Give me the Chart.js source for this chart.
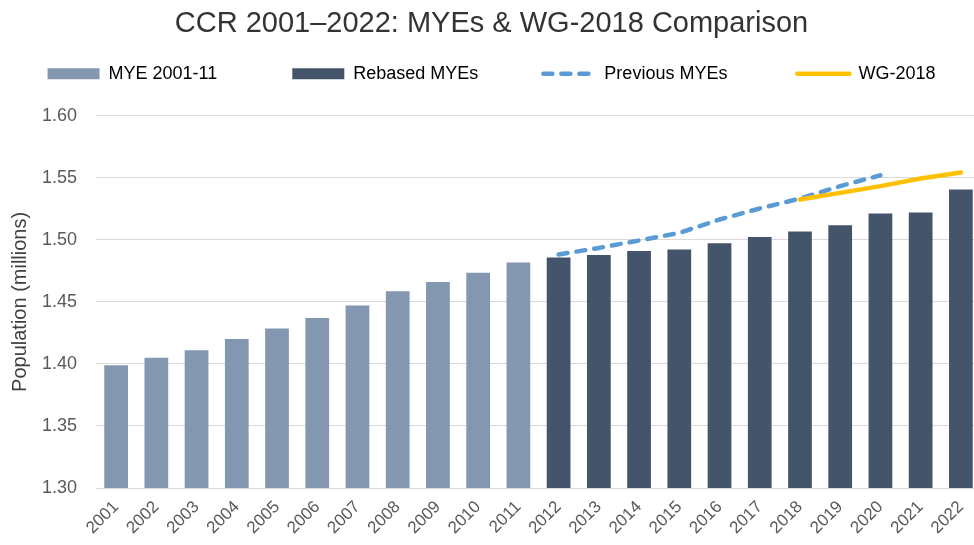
<!DOCTYPE html>
<html>
<head>
<meta charset="utf-8">
<script src="https://cdn.jsdelivr.net/npm/chart.js@4/dist/chart.umd.min.js"></script>
<style>
  html, body { margin: 0; padding: 0; background: #ffffff; overflow: hidden; width: 974px; height: 545px; }
  #wrap { width: 981px; height: 545px; }
</style>
</head>
<body>
<div id="wrap"><canvas id="c" width="981" height="545"></canvas></div>
<script>
// ---- Data ----
const years = ['2001','2002','2003','2004','2005','2006','2007','2008','2009','2010','2011',
               '2012','2013','2014','2015','2016','2017','2018','2019','2020','2021','2022'];

const myeEarly = [1.399, 1.405, 1.411, 1.420, 1.4285, 1.437, 1.447, 1.4585, 1.466, 1.4735, 1.4817,
                  null, null, null, null, null, null, null, null, null, null, null];

const rebasedMYEs = [null, null, null, null, null, null, null, null, null, null, null,
                     1.4858, 1.4879, 1.4911, 1.4922, 1.4973, 1.5024, 1.5067, 1.5118, 1.5212, 1.5220, 1.5406];

const previousMYEs = [null, null, null, null, null, null, null, null, null, null, null,
                      1.4882, 1.4935, 1.4995, 1.5056, 1.5164, 1.5253, 1.5333, 1.5433, 1.5521, null, null];

const wg2018 = [null, null, null, null, null, null, null, null, null, null, null,
                null, null, null, null, null, null, 1.5325, 1.5379, 1.5433, 1.5495, 1.5543];

const yTicks = [1.30, 1.35, 1.40, 1.45, 1.50, 1.55, 1.60];

const seriesNames = ['MYE 2001-11', 'Rebased MYEs', 'Previous MYEs', 'WG-2018'];
const titleText = 'CCR 2001\u20132022: MYEs & WG-2018 Comparison';
const yTitle = 'Population (millions)';

// ---- Styles ----
const C_LIGHT = '#8497B0';
const C_DARK = '#44546A';
const C_BLUE = '#5B9BD5';
const C_GOLD = '#FFC000';
const FONT = '"Liberation Sans", Arial, Helvetica, sans-serif';
const sp = n => ' '.repeat(n);

// Adds spacing under the legend row (legend padding is shared between x and y)
const legendSpacer = {
  id: 'legendSpacer',
  beforeLayout(chart) {
    const lg = chart.legend;
    if (lg && !lg.__wrapped) {
      const orig = lg.fit.bind(lg);
      lg.fit = function () { orig(); this.height += 23; };
      lg.__wrapped = true;
    }
  }
};

new Chart(document.getElementById('c'), {
  data: {
    labels: years,
    datasets: [
      { type: 'bar', label: seriesNames[0], data: myeEarly, backgroundColor: C_LIGHT,
        grouped: false, categoryPercentage: 1, barPercentage: 0.59, order: 3 },
      { type: 'bar', label: seriesNames[1], data: rebasedMYEs, backgroundColor: C_DARK,
        grouped: false, categoryPercentage: 1, barPercentage: 0.59, order: 2 },
      { type: 'line', label: seriesNames[2], data: previousMYEs, borderColor: C_BLUE,
        borderWidth: 4.5, borderDash: [9, 9], borderCapStyle: 'round', pointRadius: 0,
        tension: 0, fill: false, spanGaps: false, order: 1 },
      { type: 'line', label: seriesNames[3], data: wg2018, borderColor: C_GOLD,
        borderWidth: 4.5, borderCapStyle: 'round', pointRadius: 0,
        tension: 0, fill: false, spanGaps: false, order: 0 }
    ]
  },
  options: {
    responsive: false,
    animation: false,
    devicePixelRatio: 1,
    layout: { padding: { left: 2, right: 0, top: 0, bottom: 0 } },
    plugins: {
      tooltip: { enabled: false },
      title: {
        display: true, text: titleText, color: '#333333',
        font: { family: FONT, size: 29, weight: 'normal', lineHeight: 1.2 },
        padding: { top: 7, bottom: 13 }
      },
      legend: {
        display: true, position: 'top', align: 'center',
        labels: {
          usePointStyle: true, pointStyleWidth: 52, boxHeight: 11, padding: 10,
          color: '#404040', font: { family: FONT, size: 18 },
          generateLabels: () => [
            { text: seriesNames[0] + sp(13), fillStyle: C_LIGHT, strokeStyle: C_LIGHT, lineWidth: 0,
              pointStyle: 'rect', hidden: false, datasetIndex: 0 },
            { text: seriesNames[1] + sp(11), fillStyle: C_DARK, strokeStyle: C_DARK, lineWidth: 0,
              pointStyle: 'rect', hidden: false, datasetIndex: 1 },
            { text: seriesNames[2] + sp(12), fillStyle: 'rgba(0,0,0,0)', strokeStyle: C_BLUE, lineWidth: 4.5,
              lineDash: [9, 9], lineCap: 'round', pointStyle: 'line', hidden: false, datasetIndex: 2 },
            { text: seriesNames[3], fillStyle: 'rgba(0,0,0,0)', strokeStyle: C_GOLD, lineWidth: 4.5,
              lineCap: 'round', pointStyle: 'line', hidden: false, datasetIndex: 3 }
          ]
        }
      }
    },
    scales: {
      x: {
        grid: { display: false, drawTicks: false },
        border: { display: true, color: '#D9D9D9', width: 1 },
        ticks: {
          color: '#595959', font: { family: FONT, size: 17 },
          maxRotation: 45, minRotation: 45, autoSkip: false, padding: 9
        },
        afterFit(scale) { scale.height = 57; scale.paddingLeft = 0; scale.paddingRight = 0; }
      },
      y: {
        min: 1.30, max: 1.60,
        afterBuildTicks(scale) { scale.ticks = yTicks.map(v => ({ value: v })); },
        grid: { color: '#D9D9D9', lineWidth: 1, drawTicks: false },
        border: { display: false },
        ticks: {
          color: '#595959', font: { family: FONT, size: 18 }, padding: 19,
          callback: v => Number(v).toFixed(2)
        },
        title: {
          display: true, text: yTitle, color: '#404040',
          font: { family: FONT, size: 20 }, padding: { top: 6, bottom: 0 }
        },
        afterFit(scale) { scale.width = 94; }
      }
    }
  },
  plugins: [legendSpacer]
});
</script>
</body>
</html>
